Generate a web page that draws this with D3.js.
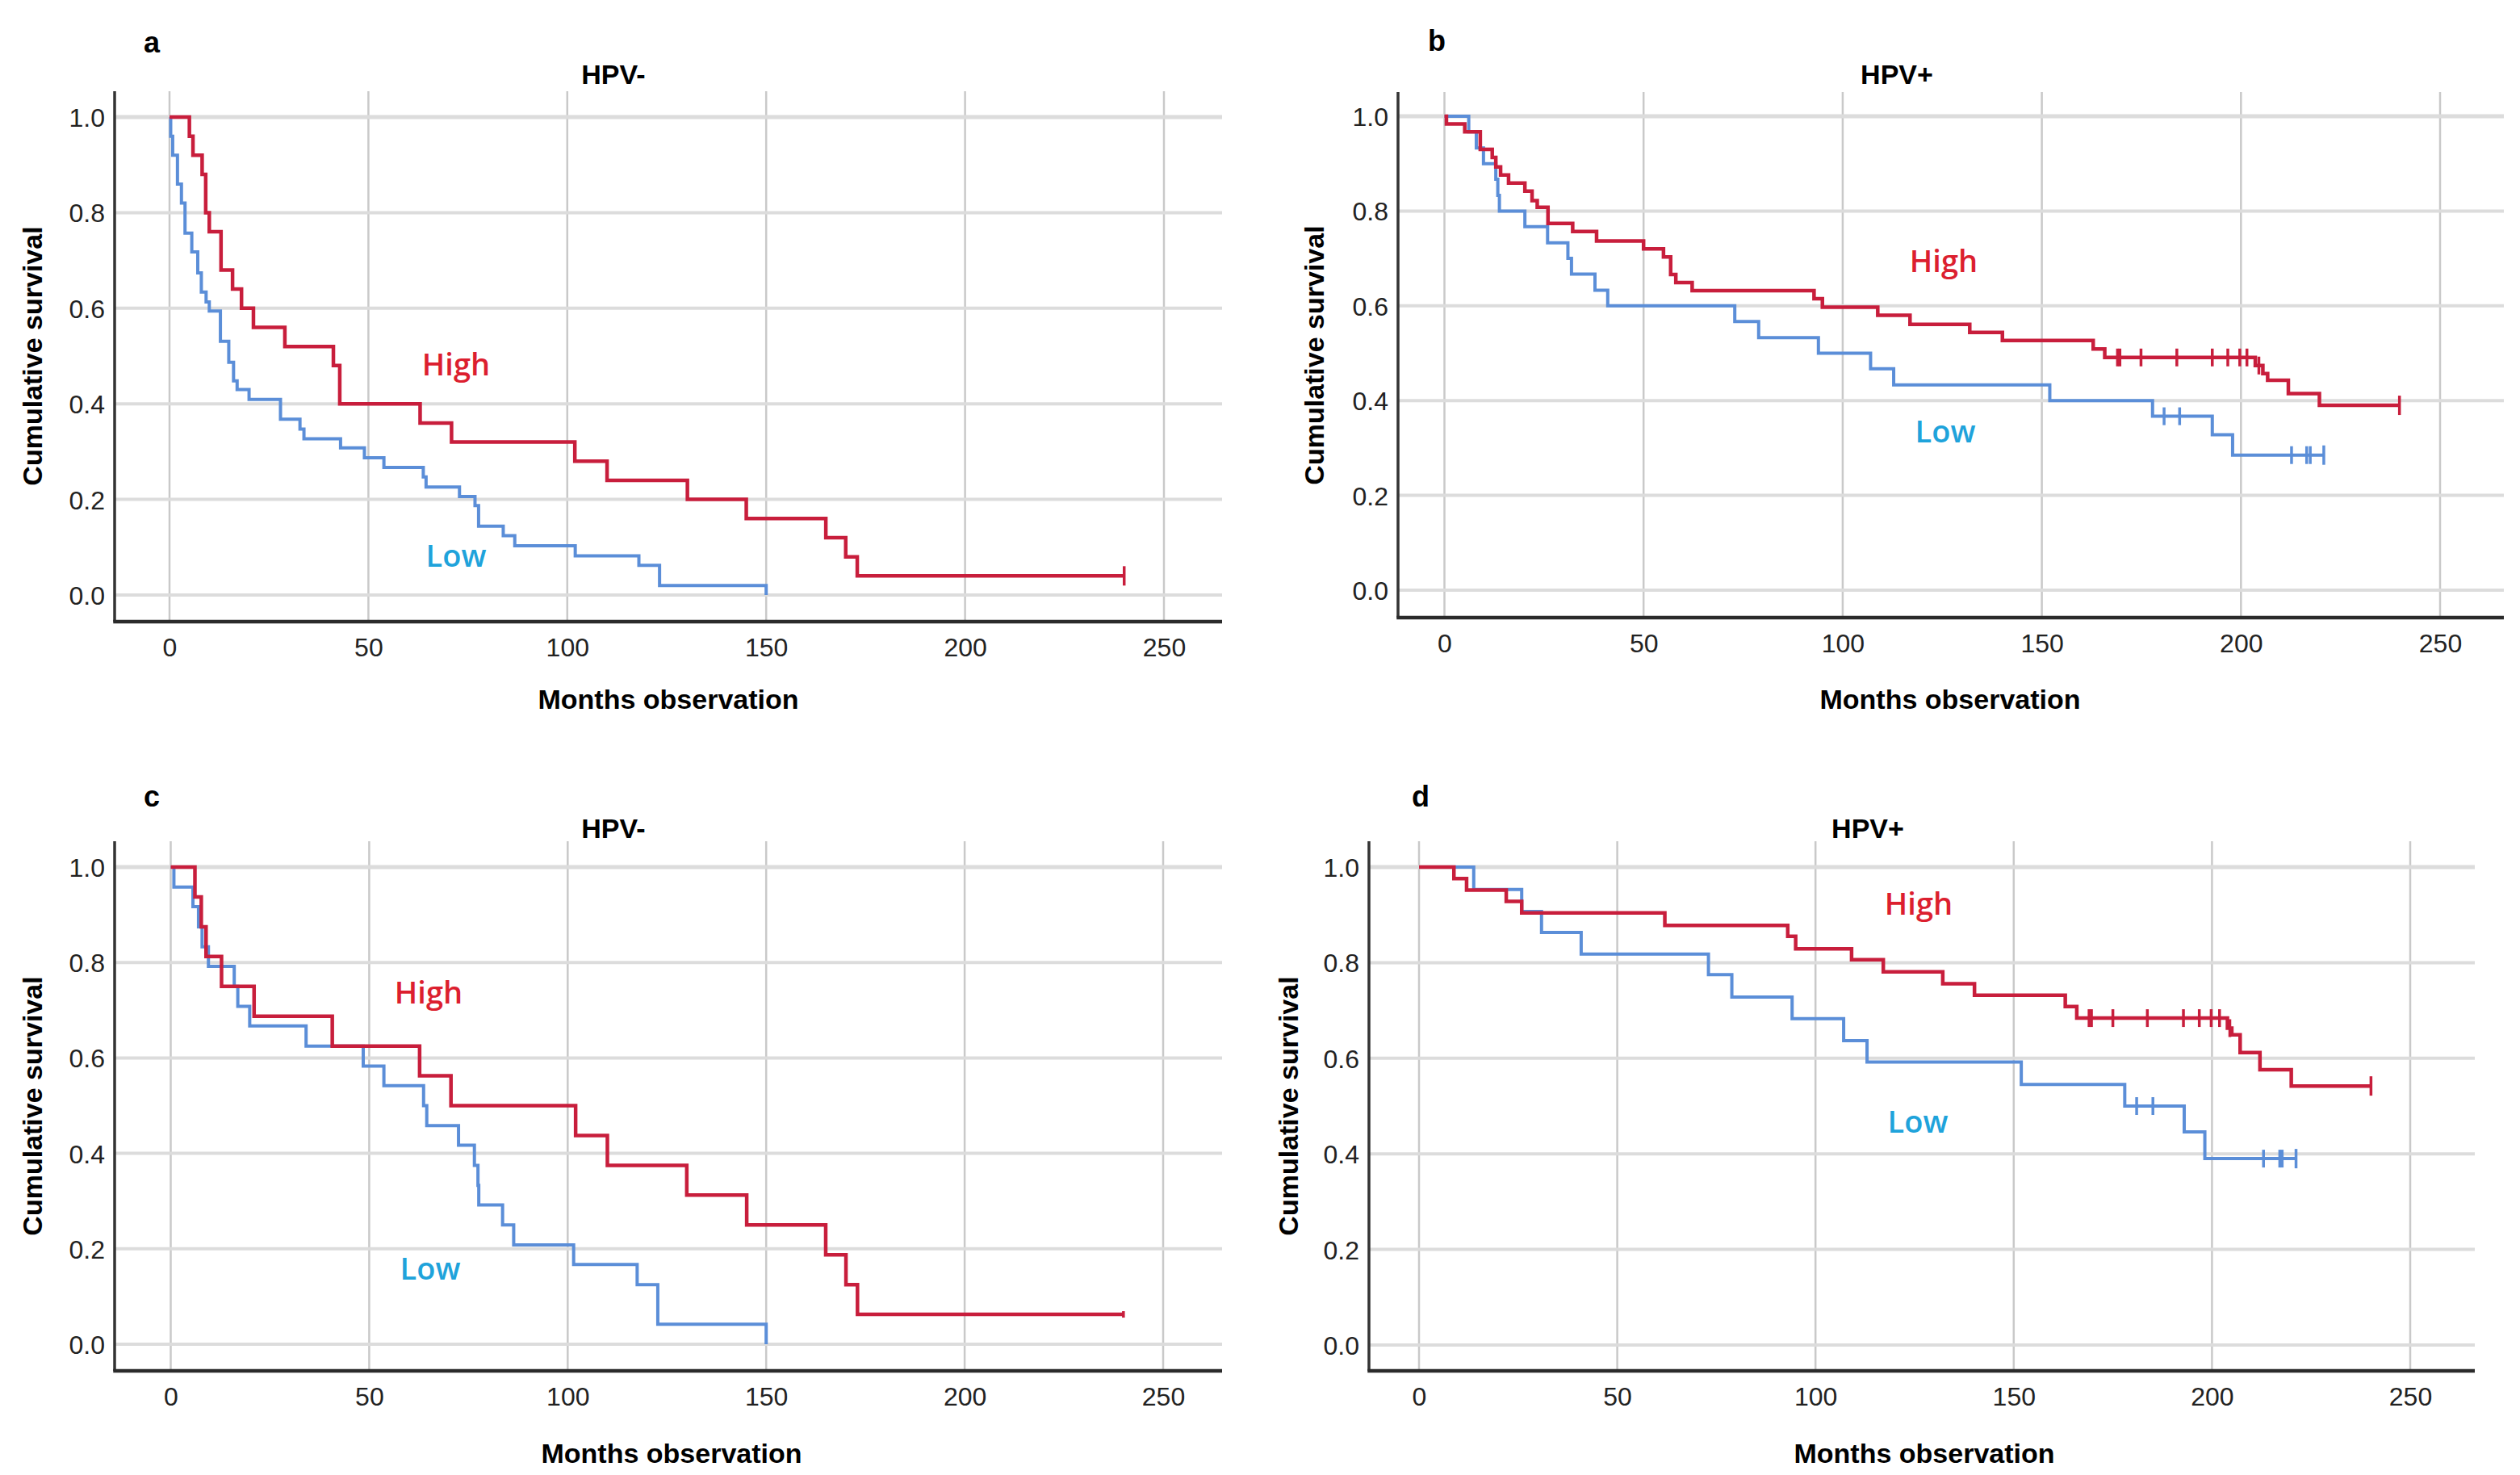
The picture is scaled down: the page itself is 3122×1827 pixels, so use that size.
<!DOCTYPE html>
<html>
<head>
<meta charset="utf-8">
<script src="https://cdn.jsdelivr.net/npm/d3@7"></script>
<style>
  body { margin: 0; background: #fff; }
  svg { display: block; }
  .tick text { font-family: "Liberation Sans", Arial, sans-serif; font-size: 32px; fill: #222; }
</style>
</head>
<body>
<svg id="chart" width="3122" height="1827"></svg>
<script>
// ---- data (months, cumulative survival) ----
var xTicks = [0, 50, 100, 150, 200, 250];
var yTicks = [0, 0.2, 0.4, 0.6, 0.8, 1.0];

// a: HPV-
var aHighT = [0, 5.0, 5.9, 8.2, 9.1, 10.0, 12.95, 15.85, 18.1, 21.1, 29.0, 41.2, 42.8, 63.0, 70.9, 101.9, 110.0, 130.2, 145.0, 165.0, 170.0, 172.9, 240];
var aHighS = [1, 0.96, 0.92, 0.88, 0.80, 0.76, 0.68, 0.64, 0.60, 0.56, 0.52, 0.48, 0.40, 0.36, 0.32, 0.28, 0.24, 0.20, 0.16, 0.12, 0.08, 0.04, 0.04];
var aHighC = [240];
var aLowT = [0, 0.3, 0.8, 2.0, 3.0, 3.9, 5.6, 7.1, 8.0, 9.2, 10.0, 12.8, 14.9, 16.1, 17.0, 20.0, 27.9, 32.8, 33.8, 43.0, 49.0, 53.9, 63.8, 64.5, 72.9, 76.8, 77.7, 83.9, 86.8, 102.0, 118.0, 123.2, 150];
var aLowS = [1, 0.96, 0.92, 0.86, 0.82, 0.757, 0.718, 0.674, 0.634, 0.613, 0.594, 0.531, 0.487, 0.448, 0.430, 0.409, 0.368, 0.347, 0.327, 0.308, 0.287, 0.267, 0.247, 0.226, 0.206, 0.187, 0.144, 0.124, 0.103, 0.082, 0.062, 0.02, 0];
var aLowC = [];

// b: HPV+
var bHighT = [0, 0.5, 5.1, 9.0, 12.0, 12.9, 14.1, 16.1, 20.2, 22.0, 23.3, 26.0, 32.2, 38.2, 50.0, 55.0, 56.8, 58.1, 62.2, 92.8, 94.9, 108.8, 116.9, 131.9, 140.1, 162.9, 165.8, 203.6, 205.5, 206.7, 211.9, 219.7, 239.8];
var bHighS = [1, 0.984, 0.967, 0.930, 0.913, 0.893, 0.876, 0.859, 0.842, 0.822, 0.808, 0.774, 0.757, 0.737, 0.720, 0.703, 0.666, 0.649, 0.632, 0.615, 0.597, 0.580, 0.561, 0.544, 0.527, 0.509, 0.491, 0.474, 0.457, 0.443, 0.415, 0.390, 0.390];
var bHighC = [169.0, 169.6, 174.9, 183.9, 192.8, 196.7, 199.7, 201.5, 204.5, 239.8];
var bLowT = [0, 6.1, 8.0, 9.8, 12.9, 13.4, 13.8, 20.2, 25.9, 31.0, 31.9, 37.8, 41.0, 72.9, 78.9, 93.9, 107.0, 112.8, 152.0, 177.8, 192.8, 197.9, 220.8];
var bLowS = [1, 0.967, 0.933, 0.90, 0.867, 0.833, 0.80, 0.767, 0.733, 0.70, 0.667, 0.633, 0.60, 0.567, 0.533, 0.50, 0.467, 0.433, 0.40, 0.367, 0.328, 0.285, 0.285];
var bLowC = [180.7, 184.6, 212.7, 216.5, 217.4, 220.8];

// c: HPV-
var cHighT = [0, 6.1, 7.7, 8.9, 12.8, 21.0, 40.7, 62.7, 70.6, 102.0, 110.0, 130.0, 145.1, 165.0, 170.1, 173.0, 240];
var cHighS = [1, 0.9375, 0.875, 0.8125, 0.75, 0.6875, 0.625, 0.5625, 0.5, 0.4375, 0.375, 0.3125, 0.25, 0.1875, 0.125, 0.0625, 0.0625];
var cHighC = [240];
var cLowT = [0, 0.8, 5.6, 7.0, 7.9, 9.5, 16.0, 16.9, 19.9, 34.1, 48.5, 53.7, 63.7, 64.5, 72.5, 76.5, 77.4, 77.6, 83.6, 86.4, 101.5, 117.5, 122.7, 150];
var cLowS = [1, 0.958, 0.917, 0.875, 0.833, 0.792, 0.75, 0.708, 0.667, 0.625, 0.583, 0.542, 0.5, 0.458, 0.417, 0.375, 0.333, 0.292, 0.25, 0.208, 0.167, 0.125, 0.042, 0];
var cLowC = [];

// d: HPV+
var dHighT = [0, 8.8, 12.0, 22.0, 25.9, 62.0, 93.0, 95.0, 109.1, 117.1, 132.1, 140.1, 163.0, 165.9, 203.9, 205.0, 207.1, 212.1, 220.0, 240.1];
var dHighS = [1, 0.976, 0.952, 0.928, 0.904, 0.878, 0.855, 0.829, 0.806, 0.781, 0.756, 0.732, 0.708, 0.684, 0.663, 0.649, 0.612, 0.576, 0.542, 0.542];
var dHighC = [169.0, 169.6, 175.0, 183.7, 192.8, 196.8, 199.8, 201.9, 204.5, 240.1];
var dLowT = [0, 13.8, 25.9, 30.9, 40.9, 73.0, 78.9, 94.1, 107.1, 113.0, 151.9, 178.0, 193.0, 198.2, 221.2];
var dLowS = [1, 0.953, 0.907, 0.863, 0.818, 0.775, 0.728, 0.683, 0.637, 0.592, 0.545, 0.50, 0.446, 0.39, 0.39];
var dLowC = [181.0, 185.1, 213.0, 217.1, 217.7, 221.2];

var HIGH_LINE = '#c81e3c', LOW_LINE = '#5b8ed8';
var HIGH_TEXT = '#dc1f2f', LOW_TEXT = '#1fa3db';

// panel frames (pixel layout of the figure)
var panels = [
  { letter: 'a', title: 'HPV-', axisX: 142, x0: 210, x1: 1442, right: 1514, y0: 737, y1: 145, top: 113, xAxisY: 770,
    letterPos: [188, 52], titlePos: [760, 92], xLabPos: [828, 866], yLabPos: [40, 441],
    highPos: [565, 450], lowPos: [565, 687], endTick: 24,
    high: [aHighT, aHighS, aHighC], low: [aLowT, aLowS, aLowC] },
  { letter: 'b', title: 'HPV+', axisX: 1732, x0: 1789.5, x1: 3023, right: 3102, y0: 731, y1: 144, top: 114, xAxisY: 765,
    letterPos: [1780, 50], titlePos: [2350, 92], xLabPos: [2416, 866], yLabPos: [1628, 440],
    highPos: [2408, 322], lowPos: [2410, 533], endTick: 24,
    high: [bHighT, bHighS, bHighC], low: [bLowT, bLowS, bLowC] },
  { letter: 'c', title: 'HPV-', axisX: 142, x0: 211.5, x1: 1441, right: 1514, y0: 1665, y1: 1074, top: 1042, xAxisY: 1698,
    letterPos: [188, 986], titlePos: [760, 1026], xLabPos: [832, 1800], yLabPos: [40, 1370],
    highPos: [531, 1228], lowPos: [533, 1570], endTick: 8,
    high: [cHighT, cHighS, cHighC], low: [cLowT, cLowS, cLowC] },
  { letter: 'd', title: 'HPV+', axisX: 1696, x0: 1758, x1: 2986, right: 3066, y0: 1666, y1: 1074, top: 1042, xAxisY: 1698,
    letterPos: [1760, 986], titlePos: [2314, 1026], xLabPos: [2384, 1800], yLabPos: [1596, 1370],
    highPos: [2377, 1118], lowPos: [2376, 1388], endTick: 24,
    high: [dHighT, dHighS, dHighC], low: [dLowT, dLowS, dLowC] }
];

var svg = d3.select('#chart');
svg.append('rect').attr('width', 3122).attr('height', 1827).attr('fill', '#fff');

function stepAt(times, surv, t) {
  // survival value at time t (right-continuous step function)
  let v = surv[0];
  for (let i = 0; i < times.length; i++) {
    if (times[i] <= t) v = surv[i];
  }
  return v;
}

function drawCurve(g, x, y, series, color, width, tickH, endTick) {
  const T = series[0], S = series[1], C = series[2];
  const pts = T.map(function(t, i) { return [t, S[i]]; });
  const line = d3.line()
    .x(function(d) { return x(d[0]); })
    .y(function(d) { return y(d[1]); })
    .curve(d3.curveStepAfter);
  g.append('path')
    .attr('d', line(pts))
    .attr('fill', 'none')
    .attr('stroke', color)
    .attr('stroke-width', width)
    .attr('stroke-linejoin', 'miter');
  // censor marks
  const last = T[T.length - 1];
  C.forEach(function(c) {
    const h = (c === last) ? endTick : tickH;
    const cy = y(stepAt(T, S, c));
    g.append('line')
      .attr('x1', x(c)).attr('x2', x(c))
      .attr('y1', cy - h / 2).attr('y2', cy + h / 2)
      .attr('stroke', color).attr('stroke-width', 3.5);
  });
}

panels.forEach(function(p) {
  const g = svg.append('g');
  const x = d3.scaleLinear().domain([0, 250]).range([p.x0, p.x1]);
  const y = d3.scaleLinear().domain([0, 1]).range([p.y0, p.y1]);

  // grid
  g.append('g').selectAll('line').data(xTicks).join('line')
    .attr('x1', function(d) { return x(d); }).attr('x2', function(d) { return x(d); })
    .attr('y1', p.top).attr('y2', p.xAxisY)
    .attr('stroke', '#c9c9c9').attr('stroke-width', 2.5);
  g.append('g').selectAll('line').data(yTicks).join('line')
    .attr('x1', p.axisX).attr('x2', p.right)
    .attr('y1', function(d) { return y(d); }).attr('y2', function(d) { return y(d); })
    .attr('stroke', '#dcdcdc').attr('stroke-width', function(d) { return d === 1 ? 5 : 4; });

  // axes (labels via d3 axis, lines drawn separately)
  const yAxis = g.append('g')
    .attr('transform', 'translate(' + p.axisX + ',0)')
    .call(d3.axisLeft(y).tickValues(yTicks).tickFormat(d3.format('.1f')).tickSize(0).tickPadding(12));
  yAxis.select('.domain').remove();
  yAxis.selectAll('text').attr('dy', '0.36em');

  const xAxis = g.append('g')
    .attr('transform', 'translate(0,' + p.xAxisY + ')')
    .call(d3.axisBottom(x).tickValues(xTicks).tickFormat(d3.format('d')).tickSize(0).tickPadding(20));
  xAxis.select('.domain').remove();

  g.append('line')
    .attr('x1', p.axisX).attr('x2', p.axisX).attr('y1', p.top).attr('y2', p.xAxisY)
    .attr('stroke', '#333').attr('stroke-width', 3.5);
  g.append('line')
    .attr('x1', p.axisX - 1.75).attr('x2', p.right).attr('y1', p.xAxisY).attr('y2', p.xAxisY)
    .attr('stroke', '#2b2b2b').attr('stroke-width', 4.5);

  // curves
  drawCurve(g, x, y, p.low, LOW_LINE, 4, 22, p.endTick);
  drawCurve(g, x, y, p.high, HIGH_LINE, 4.5, 22, p.endTick);

  // texts
  const bold = '"Liberation Sans", Arial, sans-serif';
  g.append('text').attr('x', p.letterPos[0]).attr('y', p.letterPos[1])
    .attr('text-anchor', 'middle').attr('dominant-baseline', 'central')
    .style('font-family', bold).style('font-weight', 'bold').style('font-size', '36px').text(p.letter);
  g.append('text').attr('x', p.titlePos[0]).attr('y', p.titlePos[1])
    .attr('text-anchor', 'middle').attr('dominant-baseline', 'central')
    .style('font-family', bold).style('font-weight', 'bold').style('font-size', '34px').text(p.title);
  g.append('text').attr('x', p.xLabPos[0]).attr('y', p.xLabPos[1])
    .attr('text-anchor', 'middle').attr('dominant-baseline', 'central')
    .style('font-family', bold).style('font-weight', 'bold').style('font-size', '34px').text('Months observation');
  g.append('text')
    .attr('transform', 'translate(' + p.yLabPos[0] + ',' + p.yLabPos[1] + ') rotate(-90)')
    .attr('text-anchor', 'middle').attr('dominant-baseline', 'central')
    .style('font-family', bold).style('font-weight', 'bold').style('font-size', '34px').text('Cumulative survival');
  g.append('text').attr('x', p.highPos[0]).attr('y', p.highPos[1])
    .attr('text-anchor', 'middle').attr('dominant-baseline', 'central')
    .style('font-family', '"Open Sans", "Noto Sans", sans-serif').style('font-weight', 600).style('font-size', '38px')
    .attr('fill', HIGH_TEXT).text('High');
  g.append('text').attr('x', p.lowPos[0]).attr('y', p.lowPos[1])
    .attr('text-anchor', 'middle').attr('dominant-baseline', 'central')
    .style('font-family', '"Open Sans", "Noto Sans", sans-serif').style('font-weight', 600).style('font-size', '38px')
    .attr('fill', LOW_TEXT).text('Low');
});
</script>
</body>
</html>
